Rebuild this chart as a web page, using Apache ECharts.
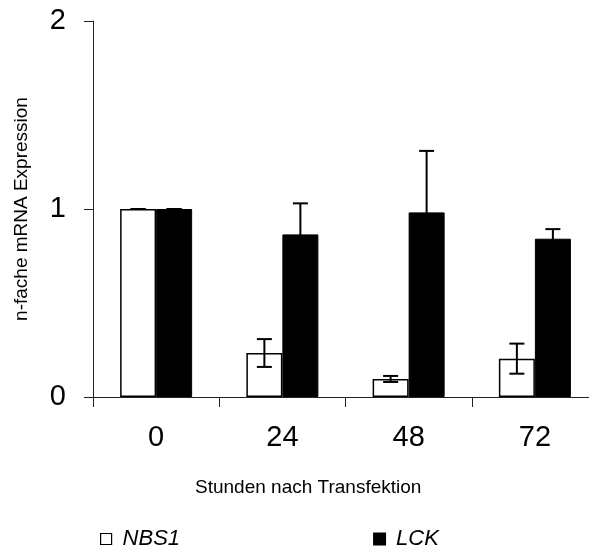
<!DOCTYPE html>
<html>
<head>
<meta charset="utf-8">
<script src="https://cdn.jsdelivr.net/npm/echarts@6/dist/echarts.min.js"></script>
<style>
  html, body { margin: 0; padding: 0; background: #fff; }
  #main { width: 589px; height: 549px; }
</style>
</head>
<body>
<div id="main"></div>
<script>
// Stunden nach Transfektion
var categories = ['0', '24', '48', '72'];
var yTicks = [0, 1, 2];

// n-fache mRNA Expression
var nbs1 = [1.0, 0.234, 0.096, 0.204];
var nbs1Err = [0, 0.074, 0.016, 0.08];
var lck = [1.0, 0.865, 0.982, 0.842];
var lckErr = [0, 0.165, 0.327, 0.051];

var FONT = 'Liberation Sans, Arial, sans-serif';
var BAR_W = 36;

function errData(vals, errs) {
  return vals.map(function (v, i) { return [i, v - errs[i], v + errs[i]]; });
}

// error bar: whisker + two caps, shifted onto its bar
function errRenderer(offset) {
  return function (params, api) {
    var i = api.value(0);
    var lo = api.coord([i, api.value(1)]);
    var hi = api.coord([i, api.value(2)]);
    var x = lo[0] + offset;
    var cap = 7.5;
    var st = { stroke: '#000', lineWidth: 2 };
    return {
      type: 'group',
      children: [
        { type: 'line', shape: { x1: x, y1: lo[1], x2: x, y2: hi[1] }, style: st },
        { type: 'line', shape: { x1: x - cap, y1: hi[1], x2: x + cap, y2: hi[1] }, style: st },
        { type: 'line', shape: { x1: x - cap, y1: lo[1], x2: x + cap, y2: lo[1] }, style: st }
      ]
    };
  };
}

var myChart = echarts.init(document.getElementById('main'));
myChart.setOption({
  animation: false,
  textStyle: { fontFamily: FONT, color: '#000' },
  grid: { left: 93, top: 21, width: 505, height: 376, outerBoundsMode: 'none', containLabel: false },
  legend: {
    data: [
      { name: 'NBS1', itemStyle: { color: '#fff', borderColor: '#000', borderWidth: 1.2 } },
      { name: 'LCK', itemStyle: { color: '#000' } }
    ],
    left: 100, top: 528, padding: 0,
    icon: 'rect', itemWidth: 11, itemHeight: 11, itemGap: 193,
    textStyle: { fontFamily: FONT, fontSize: 22, fontStyle: 'italic', color: '#000', padding: [0, 0, 0, 6] }
  },
  xAxis: {
    type: 'category',
    data: categories,
    axisLine: { lineStyle: { color: '#222', width: 1 } },
    axisTick: { show: true, length: 10, lineStyle: { color: '#222' } },
    axisLabel: { fontSize: 29, color: '#000', margin: 26, fontFamily: FONT }
  },
  yAxis: {
    type: 'value',
    min: yTicks[0], max: yTicks[yTicks.length - 1], interval: 1,
    name: 'n-fache mRNA Expression',
    nameLocation: 'middle',
    nameGap: 62,
    nameTextStyle: { fontSize: 19, color: '#000', fontFamily: FONT },
    splitLine: { show: false },
    axisLine: { show: true, lineStyle: { color: '#222', width: 1 } },
    axisTick: { show: true, length: 9, lineStyle: { color: '#222' } },
    axisLabel: { fontSize: 29, color: '#000', margin: 27, fontFamily: FONT }
  },
  graphic: [{
    type: 'text', left: 195, top: 478,
    style: { text: 'Stunden nach Transfektion', font: '19px ' + FONT, fill: '#000' }
  }],
  series: [
    {
      name: 'NBS1', type: 'bar', data: nbs1,
      barWidth: BAR_W, barGap: '0%',
      itemStyle: { color: '#fff', borderColor: '#000', borderWidth: 1.5 }
    },
    {
      name: 'LCK', type: 'bar', data: lck,
      barWidth: BAR_W, barGap: '0%',
      itemStyle: { color: '#000', borderColor: '#000', borderWidth: 1 }
    },
    {
      name: 'NBS1 err', type: 'custom', z: 5,
      renderItem: errRenderer(-BAR_W / 2),
      data: errData(nbs1, nbs1Err)
    },
    {
      name: 'LCK err', type: 'custom', z: 5,
      renderItem: errRenderer(BAR_W / 2),
      data: errData(lck, lckErr)
    }
  ]
});
</script>
</body>
</html>
